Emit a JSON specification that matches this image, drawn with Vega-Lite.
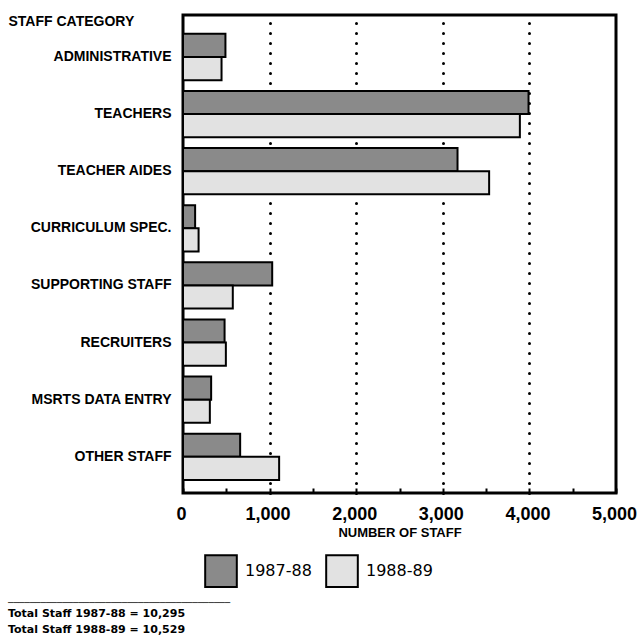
{
  "$schema": "https://vega.github.io/schema/vega-lite/v6.json",
  "width": 433,
  "height": 478,
  "autosize": {"type": "none"},
  "padding": {"left": 183, "top": 15, "right": 22, "bottom": 144},
  "background": "white",
  "config": {"view": {"stroke": "black", "strokeWidth": 3}, "font": "Liberation Sans"},
  "data": {"values": [
    {"category": "ADMINISTRATIVE", "year": "1987-88", "staff": 490},
    {"category": "ADMINISTRATIVE", "year": "1988-89", "staff": 445},
    {"category": "TEACHERS", "year": "1987-88", "staff": 3990},
    {"category": "TEACHERS", "year": "1988-89", "staff": 3890},
    {"category": "TEACHER AIDES", "year": "1987-88", "staff": 3170},
    {"category": "TEACHER AIDES", "year": "1988-89", "staff": 3535},
    {"category": "CURRICULUM SPEC.", "year": "1987-88", "staff": 140},
    {"category": "CURRICULUM SPEC.", "year": "1988-89", "staff": 180},
    {"category": "SUPPORTING STAFF", "year": "1987-88", "staff": 1030},
    {"category": "SUPPORTING STAFF", "year": "1988-89", "staff": 575},
    {"category": "RECRUITERS", "year": "1987-88", "staff": 480},
    {"category": "RECRUITERS", "year": "1988-89", "staff": 495},
    {"category": "MSRTS DATA ENTRY", "year": "1987-88", "staff": 325},
    {"category": "MSRTS DATA ENTRY", "year": "1988-89", "staff": 310},
    {"category": "OTHER STAFF", "year": "1987-88", "staff": 660},
    {"category": "OTHER STAFF", "year": "1988-89", "staff": 1110}
  ]},
  "mark": {"type": "bar", "stroke": "black", "strokeWidth": 2},
  "encoding": {
    "y": {
      "field": "category", "type": "nominal",
      "sort": ["ADMINISTRATIVE", "TEACHERS", "TEACHER AIDES", "CURRICULUM SPEC.", "SUPPORTING STAFF", "RECRUITERS", "MSRTS DATA ENTRY", "OTHER STAFF"],
      "scale": {"paddingInner": 0.19, "paddingOuter": 0.28, "align": 0.59},
      "axis": {
        "title": "STAFF CATEGORY", "titleAngle": 0, "titleAlign": "left", "titleBaseline": "alphabetic",
        "titleX": -175, "titleY": 10, "titleFontSize": 14, "titleFontWeight": "bold", "titleColor": "black",
        "labelFontSize": 14, "labelFontWeight": "bold", "labelColor": "black",
        "ticks": false, "domain": false, "labelPadding": 12
      }
    },
    "yOffset": {"field": "year", "type": "nominal", "sort": ["1987-88", "1988-89"]},
    "x": {
      "field": "staff", "type": "quantitative",
      "scale": {"domain": [0, 5000], "nice": false},
      "axis": {
        "values": [0, 500, 1000, 1500, 2000, 2500, 3000, 3500, 4000, 4500, 5000],
        "labelExpr": "datum.value % 1000 === 0 ? format(datum.value, ',') : ''",
        "labelFontSize": 18, "labelFontWeight": "bold", "labelColor": "black",
        "labelFlush": false, "labelOverlap": false, "labelPadding": 17, "labelOffset": -2,
        "title": "NUMBER OF STAFF", "titleFontSize": 13, "titleFontWeight": "bold", "titleColor": "black", "titlePadding": 3,
        "grid": true, "gridColor": "black", "gridDash": [0.1, 9.9], "gridCap": "round", "gridWidth": 3,
        "gridOpacity": {"condition": {"test": "datum.value % 1000 === 0 && datum.value > 0 && datum.value < 5000", "value": 1}, "value": 0},
        "tickSize": -5, "tickColor": "black", "tickWidth": 2, "domain": false
      }
    },
    "color": {
      "field": "year", "type": "nominal",
      "scale": {"domain": ["1987-88", "1988-89"], "range": ["#8a8a8a", "#e2e2e2"]},
      "legend": {
        "orient": "none", "legendX": 21, "legendY": 539, "direction": "horizontal", "title": null,
        "symbolType": "square", "symbolSize": 1000, "symbolStrokeColor": "black", "symbolStrokeWidth": 2,
        "symbolOpacity": 1, "labelFont": "DejaVu Sans", "labelFontSize": 16, "labelOffset": 7, "columnPadding": 10, "padding": 0, "labelColor": "black"
      }
    }
  },
  "title": {
    "text": "─────────────────────────────────────────",
    "subtitle": ["Total Staff 1987-88 = 10,295", "Total Staff 1988-89 = 10,529"],
    "orient": "bottom", "anchor": "start", "frame": "bounds",
    "font": "DejaVu Sans", "fontSize": 9, "fontWeight": "bold", "color": "black",
    "subtitleFont": "DejaVu Sans", "subtitleFontSize": 11, "subtitleFontWeight": "bold", "subtitleColor": "black",
    "subtitlePadding": 0, "subtitleLineHeight": 16, "offset": 8
  }
}
